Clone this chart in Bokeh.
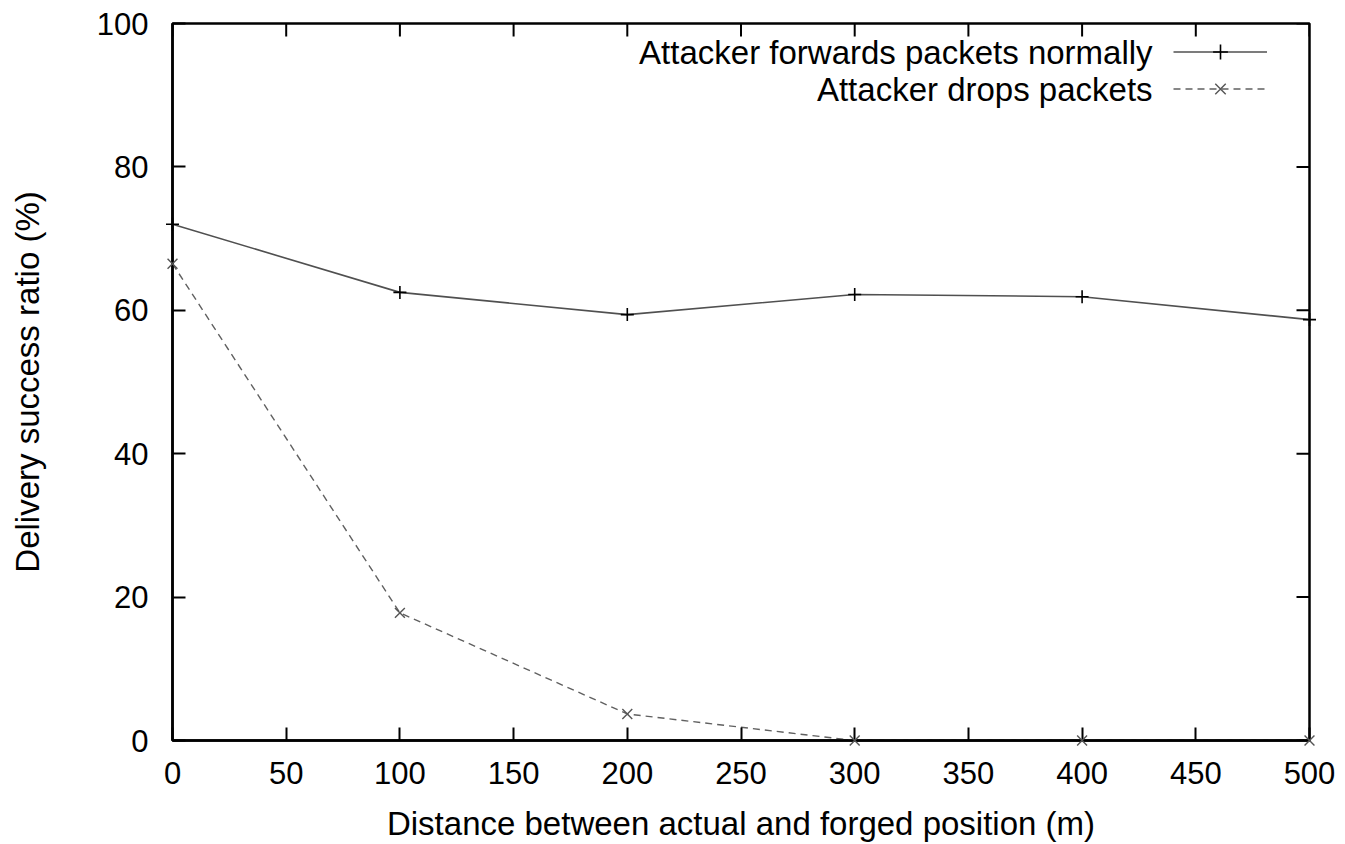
import math
from bokeh.plotting import figure
from bokeh.models import (FixedTicker, Legend, LegendItem, Label, Range1d)
from bokeh.embed import file_html
from bokeh.resources import INLINE

distance = [0, 100, 200, 300, 400, 500]
forward = [72.0, 62.5, 59.4, 62.2, 61.9, 58.7]
drop = [66.5, 17.8, 3.7, 0.0, 0.0, 0.0]
x_ticks = [0, 50, 100, 150, 200, 250, 300, 350, 400, 450, 500]
y_ticks = [0, 20, 40, 60, 80, 100]
series_names = ["Attacker forwards packets normally", "Attacker drops packets"]
x_title = "Distance between actual and forged position (m)"
y_title = "Delivery success ratio (%)"

FONT = "Liberation Sans"
TICK_FS = "31px"
LAB_FS = "33px"

X0, X1, Y0, Y1 = 0, 500, 0, 100

p = figure(width=1337, height=844, output_backend="svg", toolbar_location=None,
           x_range=Range1d(X0, X1), y_range=Range1d(Y0, Y1),
           min_border_left=172, min_border_top=23, min_border_right=28, min_border_bottom=102,
           background_fill_color="white", border_fill_color="white")
p.grid.visible = False
p.outline_line_color = "black"
p.outline_line_width = 2.5

for ax, ticks in ((p.xaxis[0], x_ticks), (p.yaxis[0], y_ticks)):
    ax.ticker = FixedTicker(ticks=ticks)
    ax.minor_tick_line_color = None
    ax.major_tick_in = 13
    ax.major_tick_out = 0
    ax.major_tick_line_width = 2
    ax.axis_line_width = 2.5
    ax.major_label_text_font = FONT
    ax.major_label_text_font_size = TICK_FS
    ax.major_label_text_color = "black"
    ax.axis_label_text_font = FONT
    ax.axis_label_text_font_size = LAB_FS
    ax.axis_label_text_font_style = "normal"
    ax.axis_label_text_color = "black"

p.xaxis[0].axis_label = x_title
p.yaxis[0].axis_label = y_title
p.xaxis[0].major_label_standoff = 21
p.xaxis[0].axis_label_standoff = 18
p.yaxis[0].major_label_standoff = 24
p.yaxis[0].axis_label_standoff = 48

# mirrored inward ticks on the top and right edges
p.ray(x=x_ticks, y=[Y1] * len(x_ticks), length=13, length_units="screen",
      angle=-math.pi / 2, line_color="black", line_width=2)
p.ray(x=[X1] * len(y_ticks), y=y_ticks, length=13, length_units="screen",
      angle=math.pi, line_color="black", line_width=2)

r1l = p.line(distance, forward, line_color="#505050", line_width=1.6)
r1m = p.scatter(distance, forward, marker="cross", size=13, line_color="black", line_width=1.6,
                level="overlay")
r2l = p.line(distance, drop, line_color="#606060", line_width=1.4, line_dash="7 5")
r2m = p.scatter(distance, drop, marker="x", size=14, line_color="#555555", line_width=1.4,
                level="overlay")

legend = Legend(items=[LegendItem(label=" ", renderers=[r1l, r1m]),
                       LegendItem(label=" ", renderers=[r2l, r2m])],
                location="top_right", margin=10, padding=0, spacing=0,
                glyph_width=94, glyph_height=37, label_standoff=0, label_width=32,
                label_text_font_size="8px",
                background_fill_alpha=0, border_line_color=None)
p.add_layout(legend)

for name, yv in zip(series_names, [96.0, 90.8]):
    p.add_layout(Label(x=431, y=yv, text=name, text_align="right", text_baseline="middle",
                       text_font=FONT, text_font_size=LAB_FS, text_color="black"))

open("out.html", "w").write(file_html(p, INLINE))
